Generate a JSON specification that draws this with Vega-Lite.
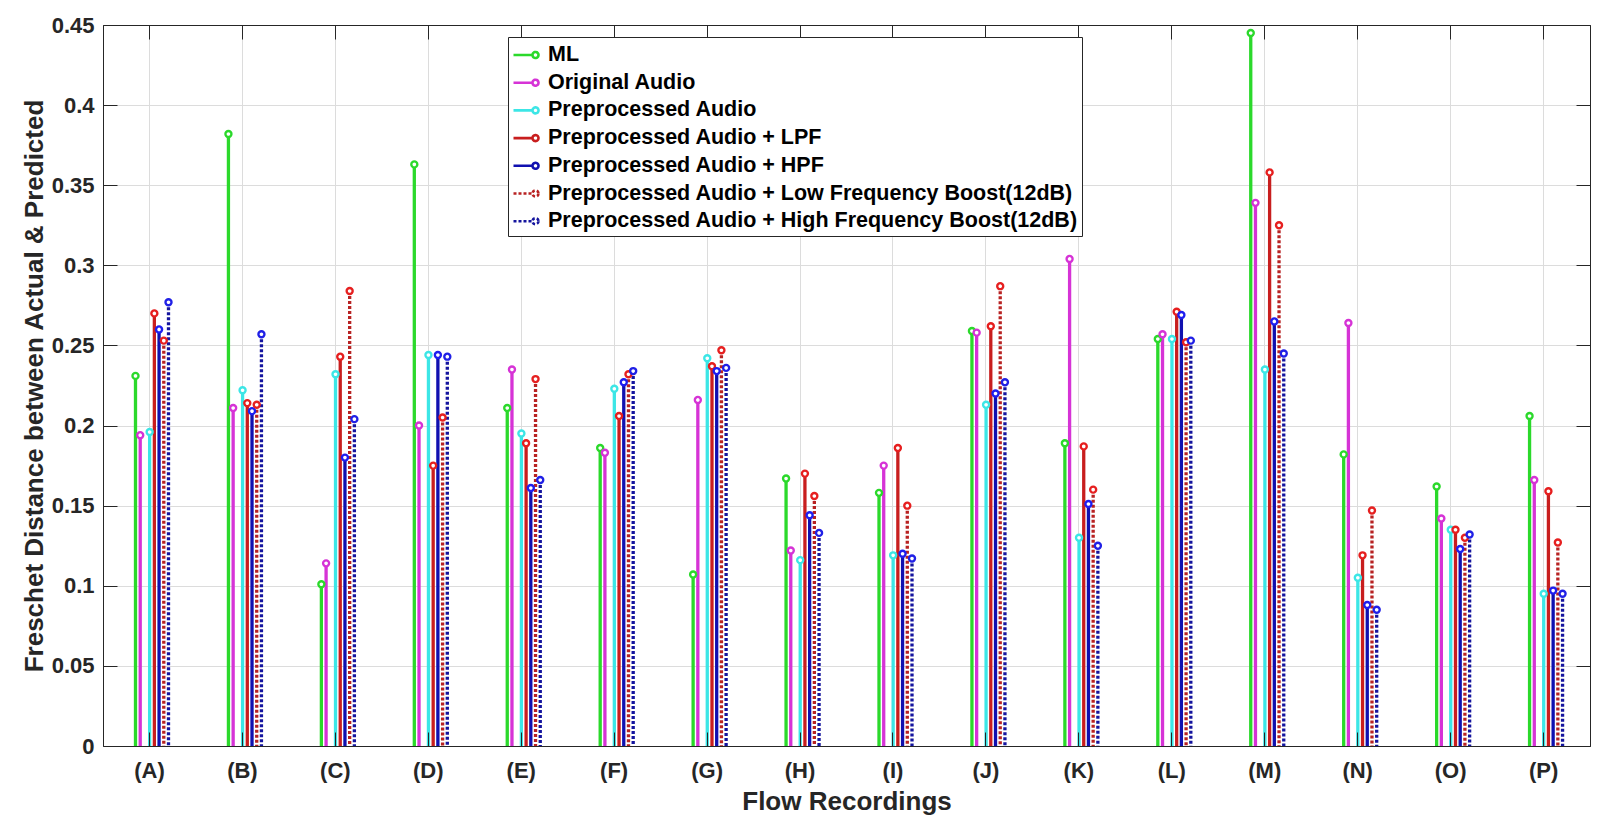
{
  "$schema": "https://vega.github.io/schema/vega-lite/v6.json",
  "description": "Freschet distance per flow recording, stem plot",
  "width": 1487,
  "height": 721,
  "autosize": "none",
  "padding": {"left": 103, "top": 25, "right": 16, "bottom": 77},
  "background": "white",
  "data": {
    "values": [
      {"recording": "(A)", "method": "ML", "distance": 0.231},
      {"recording": "(A)", "method": "Original Audio", "distance": 0.194},
      {"recording": "(A)", "method": "Preprocessed Audio", "distance": 0.196},
      {"recording": "(A)", "method": "Preprocessed Audio + LPF", "distance": 0.270},
      {"recording": "(A)", "method": "Preprocessed Audio + HPF", "distance": 0.260},
      {"recording": "(A)", "method": "Preprocessed Audio + Low Frequency Boost(12dB)", "distance": 0.253},
      {"recording": "(A)", "method": "Preprocessed Audio + High Frequency Boost(12dB)", "distance": 0.277},
      {"recording": "(B)", "method": "ML", "distance": 0.382},
      {"recording": "(B)", "method": "Original Audio", "distance": 0.211},
      {"recording": "(B)", "method": "Preprocessed Audio", "distance": 0.222},
      {"recording": "(B)", "method": "Preprocessed Audio + LPF", "distance": 0.214},
      {"recording": "(B)", "method": "Preprocessed Audio + HPF", "distance": 0.209},
      {"recording": "(B)", "method": "Preprocessed Audio + Low Frequency Boost(12dB)", "distance": 0.213},
      {"recording": "(B)", "method": "Preprocessed Audio + High Frequency Boost(12dB)", "distance": 0.257},
      {"recording": "(C)", "method": "ML", "distance": 0.101},
      {"recording": "(C)", "method": "Original Audio", "distance": 0.114},
      {"recording": "(C)", "method": "Preprocessed Audio", "distance": 0.232},
      {"recording": "(C)", "method": "Preprocessed Audio + LPF", "distance": 0.243},
      {"recording": "(C)", "method": "Preprocessed Audio + HPF", "distance": 0.180},
      {"recording": "(C)", "method": "Preprocessed Audio + Low Frequency Boost(12dB)", "distance": 0.284},
      {"recording": "(C)", "method": "Preprocessed Audio + High Frequency Boost(12dB)", "distance": 0.204},
      {"recording": "(D)", "method": "ML", "distance": 0.363},
      {"recording": "(D)", "method": "Original Audio", "distance": 0.200},
      {"recording": "(D)", "method": "Preprocessed Audio", "distance": 0.244},
      {"recording": "(D)", "method": "Preprocessed Audio + LPF", "distance": 0.175},
      {"recording": "(D)", "method": "Preprocessed Audio + HPF", "distance": 0.244},
      {"recording": "(D)", "method": "Preprocessed Audio + Low Frequency Boost(12dB)", "distance": 0.205},
      {"recording": "(D)", "method": "Preprocessed Audio + High Frequency Boost(12dB)", "distance": 0.243},
      {"recording": "(E)", "method": "ML", "distance": 0.211},
      {"recording": "(E)", "method": "Original Audio", "distance": 0.235},
      {"recording": "(E)", "method": "Preprocessed Audio", "distance": 0.195},
      {"recording": "(E)", "method": "Preprocessed Audio + LPF", "distance": 0.189},
      {"recording": "(E)", "method": "Preprocessed Audio + HPF", "distance": 0.161},
      {"recording": "(E)", "method": "Preprocessed Audio + Low Frequency Boost(12dB)", "distance": 0.229},
      {"recording": "(E)", "method": "Preprocessed Audio + High Frequency Boost(12dB)", "distance": 0.166},
      {"recording": "(F)", "method": "ML", "distance": 0.186},
      {"recording": "(F)", "method": "Original Audio", "distance": 0.183},
      {"recording": "(F)", "method": "Preprocessed Audio", "distance": 0.223},
      {"recording": "(F)", "method": "Preprocessed Audio + LPF", "distance": 0.206},
      {"recording": "(F)", "method": "Preprocessed Audio + HPF", "distance": 0.227},
      {"recording": "(F)", "method": "Preprocessed Audio + Low Frequency Boost(12dB)", "distance": 0.232},
      {"recording": "(F)", "method": "Preprocessed Audio + High Frequency Boost(12dB)", "distance": 0.234},
      {"recording": "(G)", "method": "ML", "distance": 0.107},
      {"recording": "(G)", "method": "Original Audio", "distance": 0.216},
      {"recording": "(G)", "method": "Preprocessed Audio", "distance": 0.242},
      {"recording": "(G)", "method": "Preprocessed Audio + LPF", "distance": 0.237},
      {"recording": "(G)", "method": "Preprocessed Audio + HPF", "distance": 0.234},
      {"recording": "(G)", "method": "Preprocessed Audio + Low Frequency Boost(12dB)", "distance": 0.247},
      {"recording": "(G)", "method": "Preprocessed Audio + High Frequency Boost(12dB)", "distance": 0.236},
      {"recording": "(H)", "method": "ML", "distance": 0.167},
      {"recording": "(H)", "method": "Original Audio", "distance": 0.122},
      {"recording": "(H)", "method": "Preprocessed Audio", "distance": 0.116},
      {"recording": "(H)", "method": "Preprocessed Audio + LPF", "distance": 0.170},
      {"recording": "(H)", "method": "Preprocessed Audio + HPF", "distance": 0.144},
      {"recording": "(H)", "method": "Preprocessed Audio + Low Frequency Boost(12dB)", "distance": 0.156},
      {"recording": "(H)", "method": "Preprocessed Audio + High Frequency Boost(12dB)", "distance": 0.133},
      {"recording": "(I)", "method": "ML", "distance": 0.158},
      {"recording": "(I)", "method": "Original Audio", "distance": 0.175},
      {"recording": "(I)", "method": "Preprocessed Audio", "distance": 0.119},
      {"recording": "(I)", "method": "Preprocessed Audio + LPF", "distance": 0.186},
      {"recording": "(I)", "method": "Preprocessed Audio + HPF", "distance": 0.120},
      {"recording": "(I)", "method": "Preprocessed Audio + Low Frequency Boost(12dB)", "distance": 0.150},
      {"recording": "(I)", "method": "Preprocessed Audio + High Frequency Boost(12dB)", "distance": 0.117},
      {"recording": "(J)", "method": "ML", "distance": 0.259},
      {"recording": "(J)", "method": "Original Audio", "distance": 0.258},
      {"recording": "(J)", "method": "Preprocessed Audio", "distance": 0.213},
      {"recording": "(J)", "method": "Preprocessed Audio + LPF", "distance": 0.262},
      {"recording": "(J)", "method": "Preprocessed Audio + HPF", "distance": 0.220},
      {"recording": "(J)", "method": "Preprocessed Audio + Low Frequency Boost(12dB)", "distance": 0.287},
      {"recording": "(J)", "method": "Preprocessed Audio + High Frequency Boost(12dB)", "distance": 0.227},
      {"recording": "(K)", "method": "ML", "distance": 0.189},
      {"recording": "(K)", "method": "Original Audio", "distance": 0.304},
      {"recording": "(K)", "method": "Preprocessed Audio", "distance": 0.130},
      {"recording": "(K)", "method": "Preprocessed Audio + LPF", "distance": 0.187},
      {"recording": "(K)", "method": "Preprocessed Audio + HPF", "distance": 0.151},
      {"recording": "(K)", "method": "Preprocessed Audio + Low Frequency Boost(12dB)", "distance": 0.160},
      {"recording": "(K)", "method": "Preprocessed Audio + High Frequency Boost(12dB)", "distance": 0.125},
      {"recording": "(L)", "method": "ML", "distance": 0.254},
      {"recording": "(L)", "method": "Original Audio", "distance": 0.257},
      {"recording": "(L)", "method": "Preprocessed Audio", "distance": 0.254},
      {"recording": "(L)", "method": "Preprocessed Audio + LPF", "distance": 0.271},
      {"recording": "(L)", "method": "Preprocessed Audio + HPF", "distance": 0.269},
      {"recording": "(L)", "method": "Preprocessed Audio + Low Frequency Boost(12dB)", "distance": 0.252},
      {"recording": "(L)", "method": "Preprocessed Audio + High Frequency Boost(12dB)", "distance": 0.253},
      {"recording": "(M)", "method": "ML", "distance": 0.445},
      {"recording": "(M)", "method": "Original Audio", "distance": 0.339},
      {"recording": "(M)", "method": "Preprocessed Audio", "distance": 0.235},
      {"recording": "(M)", "method": "Preprocessed Audio + LPF", "distance": 0.358},
      {"recording": "(M)", "method": "Preprocessed Audio + HPF", "distance": 0.265},
      {"recording": "(M)", "method": "Preprocessed Audio + Low Frequency Boost(12dB)", "distance": 0.325},
      {"recording": "(M)", "method": "Preprocessed Audio + High Frequency Boost(12dB)", "distance": 0.245},
      {"recording": "(N)", "method": "ML", "distance": 0.182},
      {"recording": "(N)", "method": "Original Audio", "distance": 0.264},
      {"recording": "(N)", "method": "Preprocessed Audio", "distance": 0.105},
      {"recording": "(N)", "method": "Preprocessed Audio + LPF", "distance": 0.119},
      {"recording": "(N)", "method": "Preprocessed Audio + HPF", "distance": 0.088},
      {"recording": "(N)", "method": "Preprocessed Audio + Low Frequency Boost(12dB)", "distance": 0.147},
      {"recording": "(N)", "method": "Preprocessed Audio + High Frequency Boost(12dB)", "distance": 0.085},
      {"recording": "(O)", "method": "ML", "distance": 0.162},
      {"recording": "(O)", "method": "Original Audio", "distance": 0.142},
      {"recording": "(O)", "method": "Preprocessed Audio", "distance": 0.135},
      {"recording": "(O)", "method": "Preprocessed Audio + LPF", "distance": 0.135},
      {"recording": "(O)", "method": "Preprocessed Audio + HPF", "distance": 0.123},
      {"recording": "(O)", "method": "Preprocessed Audio + Low Frequency Boost(12dB)", "distance": 0.130},
      {"recording": "(O)", "method": "Preprocessed Audio + High Frequency Boost(12dB)", "distance": 0.132},
      {"recording": "(P)", "method": "ML", "distance": 0.206},
      {"recording": "(P)", "method": "Original Audio", "distance": 0.166},
      {"recording": "(P)", "method": "Preprocessed Audio", "distance": 0.095},
      {"recording": "(P)", "method": "Preprocessed Audio + LPF", "distance": 0.159},
      {"recording": "(P)", "method": "Preprocessed Audio + HPF", "distance": 0.097},
      {"recording": "(P)", "method": "Preprocessed Audio + Low Frequency Boost(12dB)", "distance": 0.127},
      {"recording": "(P)", "method": "Preprocessed Audio + High Frequency Boost(12dB)", "distance": 0.095}
    ]
  },
  "layer": [
    {
      "mark": {"type": "rule", "strokeWidth": 3.3},
      "encoding": {
        "x": {
          "field": "recording",
          "type": "nominal",
          "sort": null,
          "scale": {"paddingInner": 0, "paddingOuter": 0},
          "axis": {
            "orient": "bottom",
            "title": "Flow Recordings",
            "titlePadding": 7,
            "labelAngle": 0,
            "bandPosition": 0.5,
            "tickSize": -14,
            "labelPadding": 28,
            "grid": false,
            "zindex": 1
          }
        },
        "xOffset": {
          "field": "method",
          "type": "nominal",
          "scale": {
            "type": "point",
            "padding": 0,
            "range": [32.5, 65.5],
            "domain": ["ML", "Original Audio", "gap", "Preprocessed Audio", "Preprocessed Audio + LPF", "Preprocessed Audio + HPF", "Preprocessed Audio + Low Frequency Boost(12dB)", "Preprocessed Audio + High Frequency Boost(12dB)"]
          }
        },
        "y": {
          "field": "distance",
          "type": "quantitative",
          "scale": {"domain": [0, 0.45], "nice": false},
          "axis": {
            "orient": "left",
            "title": "Freschet Distance between Actual & Predicted",
            "titlePadding": 4,
            "values": [0, 0.05, 0.1, 0.15, 0.2, 0.25, 0.3, 0.35, 0.4, 0.45],
            "format": ".2~f",
            "tickSize": -14,
            "labelPadding": 23,
            "grid": false,
            "zindex": 1
          }
        },
        "y2": {"datum": 0},
        "color": {
          "field": "method",
          "type": "nominal",
          "scale": {
            "domain": ["ML", "Original Audio", "Preprocessed Audio", "Preprocessed Audio + LPF", "Preprocessed Audio + HPF", "Preprocessed Audio + Low Frequency Boost(12dB)", "Preprocessed Audio + High Frequency Boost(12dB)"],
            "range": ["#2bd92b", "#d633d6", "#3ce6e6", "#c81e1e", "#1010b0", "#b82222", "#14149e"]
          },
          "legend": {"title": null}
        },
        "strokeDash": {
          "field": "method",
          "type": "nominal",
          "scale": {
            "domain": ["ML", "Original Audio", "Preprocessed Audio", "Preprocessed Audio + LPF", "Preprocessed Audio + HPF", "Preprocessed Audio + Low Frequency Boost(12dB)", "Preprocessed Audio + High Frequency Boost(12dB)"],
            "range": [[1, 0], [1, 0], [1, 0], [1, 0], [1, 0], [3, 2], [3, 2]]
          },
          "legend": {"title": null}
        }
      }
    },
    {
      "mark": {"type": "point", "shape": "circle", "size": 36, "strokeWidth": 2.4, "filled": false, "fill": "white", "fillOpacity": 1, "opacity": 1},
      "encoding": {
        "x": {
          "field": "recording",
          "type": "nominal",
          "sort": null,
          "axis": {
            "orient": "top",
            "title": null,
            "labels": false,
            "bandPosition": 0.5,
            "tickSize": -14,
            "grid": true,
            "zindex": 0
          }
        },
        "xOffset": {
          "field": "method",
          "type": "nominal"
        },
        "y": {
          "field": "distance",
          "type": "quantitative",
          "axis": {
            "orient": "right",
            "title": null,
            "labels": false,
            "values": [0, 0.05, 0.1, 0.15, 0.2, 0.25, 0.3, 0.35, 0.4, 0.45],
            "tickSize": -14,
            "grid": true,
            "zindex": 0
          }
        },
        "stroke": {
          "field": "method",
          "type": "nominal",
          "scale": {
            "domain": ["ML", "Original Audio", "Preprocessed Audio", "Preprocessed Audio + LPF", "Preprocessed Audio + HPF", "Preprocessed Audio + Low Frequency Boost(12dB)", "Preprocessed Audio + High Frequency Boost(12dB)"],
            "range": ["#2bd92b", "#d633d6", "#3ce6e6", "#e61e1e", "#1e1ef0", "#e62020", "#2020e6"]
          },
          "legend": null
        }
      }
    }
  ],
  "resolve": {"axis": {"x": "independent", "y": "independent"}},
  "config": {
    "font": "Liberation Sans",
    "view": {"stroke": "#262626", "strokeWidth": 1},
    "axis": {
      "domainColor": "#262626",
      "tickColor": "#262626",
      "gridColor": "#dcdcdc",
      "gridWidth": 1,
      "labelFontSize": 22,
      "labelFontWeight": "bold",
      "labelColor": "#262626",
      "titleFontSize": 26,
      "titleFontWeight": "bold",
      "titleColor": "#262626"
    },
    "legend": {
      "orient": "none",
      "legendX": 405,
      "legendY": 12,
      "strokeColor": "#262626",
      "fillColor": "white",
      "padding": 4,
      "labelFontSize": 21.5,
      "labelFontWeight": "bold",
      "labelColor": "black",
      "labelLimit": 700,
      "labelOffset": 8,
      "symbolType": "M-1,0H0.52M1,0A0.24,0.24,0,1,1,0.52,0A0.24,0.24,0,1,1,1,0",
      "symbolSize": 625,
      "symbolStrokeWidth": 2.6,
      "rowPadding": 2.7
    }
  }
}
